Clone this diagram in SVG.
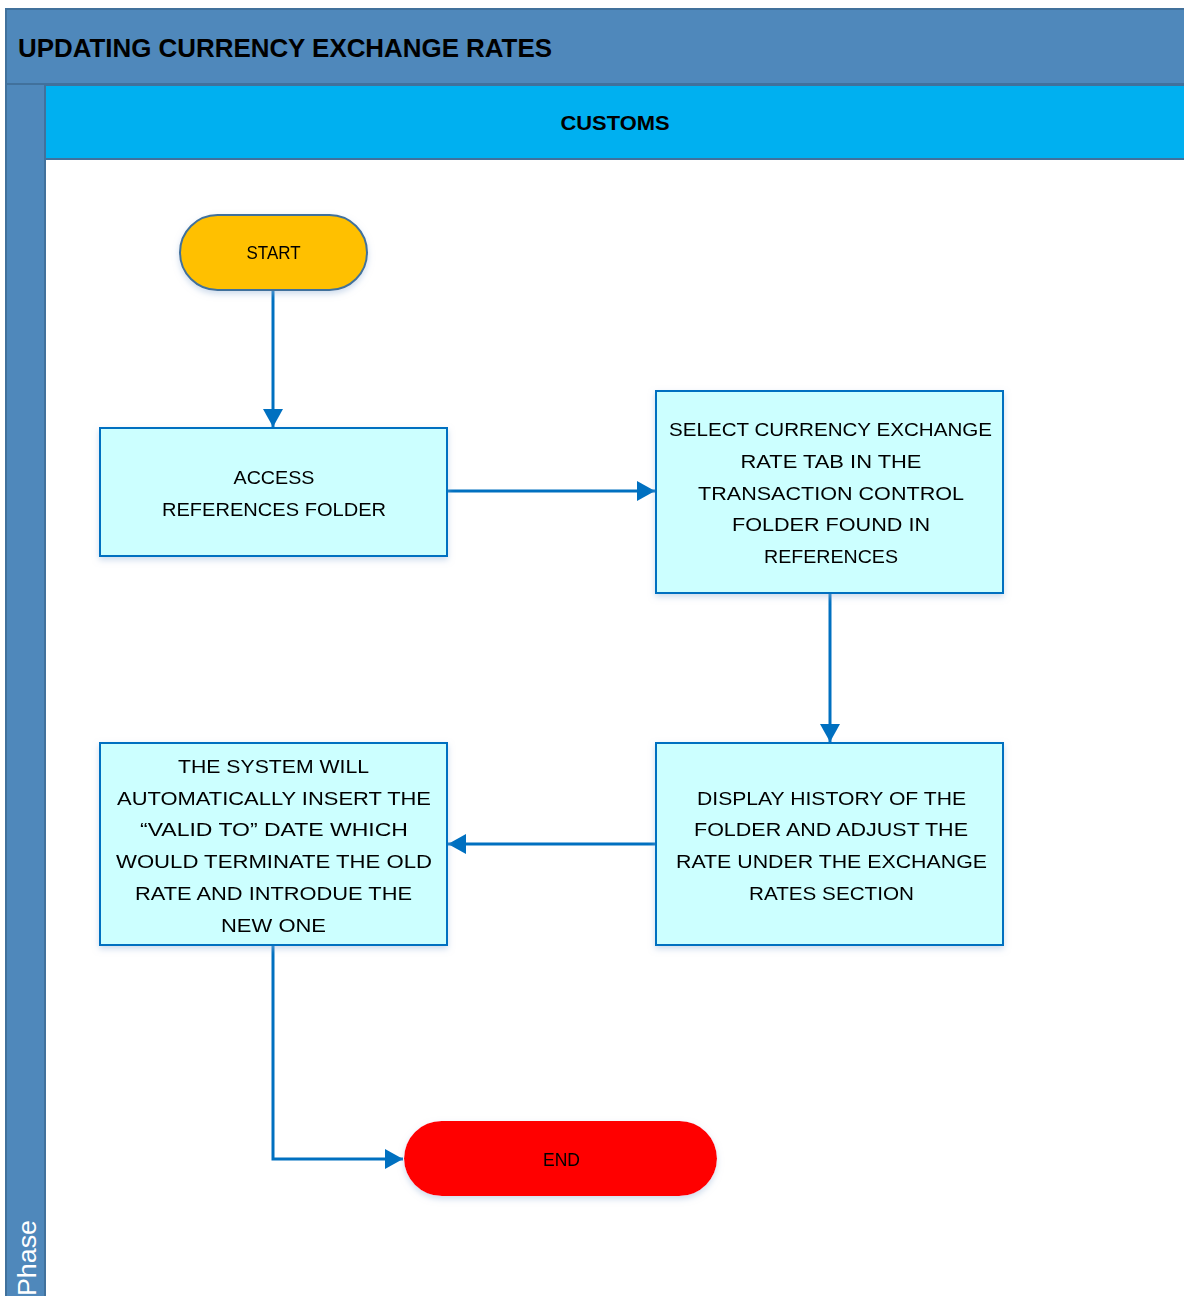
<svg xmlns="http://www.w3.org/2000/svg" width="1184" height="1296" viewBox="0 0 1184 1296">
<defs>
<style>
.t{font-family:"Liberation Sans",Arial,sans-serif;font-size:19px;fill:#000;text-anchor:middle}
.box{fill:#CCFFFF;stroke:#0070C0;stroke-width:2}
.c{fill:none;stroke:#0070C0;stroke-width:3}
</style>
<marker id="ah" markerWidth="18" markerHeight="20" refX="18" refY="10" orient="auto" markerUnits="userSpaceOnUse" viewBox="0 0 18 20">
<path d="M0,0 L18,10 L0,20 z" fill="#0070C0"/>
</marker>
<filter id="sh" x="-10%" y="-10%" width="120%" height="130%">
<feDropShadow dx="0" dy="3" stdDeviation="3" flood-color="#9DB8D9" flood-opacity="0.5"/>
</filter>
</defs>
<rect x="0" y="0" width="1184" height="1296" fill="#FFFFFF"/>
<g id="pool">
<rect x="6" y="9" width="1190" height="75" fill="#4F88BB" stroke="#41719C" stroke-width="2"/>
<text x="18" y="57" font-family="'Liberation Sans',Arial,sans-serif" font-size="26" font-weight="bold" textLength="534" lengthAdjust="spacingAndGlyphs">UPDATING CURRENCY EXCHANGE RATES</text>
<rect x="6" y="84" width="39" height="1220" fill="#4F88BB" stroke="#41719C" stroke-width="2"/>
<text transform="translate(36,1296) rotate(-90)" font-family="'Liberation Sans',Arial,sans-serif" font-size="26" fill="#FFFFFF" textLength="76" lengthAdjust="spacingAndGlyphs">Phase</text>
<rect x="45" y="85" width="1150" height="74" fill="#00B0F0" stroke="#41719C" stroke-width="2"/>
<text x="615" y="130" font-family="'Liberation Sans',Arial,sans-serif" font-size="21" font-weight="bold" text-anchor="middle" textLength="109" lengthAdjust="spacingAndGlyphs">CUSTOMS</text>
</g>
<g id="connectors">
<path class="c" d="M273,290 L273,427" marker-end="url(#ah)"/>
<path class="c" d="M447,491 L655,491" marker-end="url(#ah)"/>
<path class="c" d="M830,593 L830,742" marker-end="url(#ah)"/>
<path class="c" d="M656,844 L448,844" marker-end="url(#ah)"/>
<path class="c" d="M273,945 L273,1159 L403,1159" marker-end="url(#ah)"/>
</g>
<g id="start" filter="url(#sh)">
<rect x="180" y="215" width="187" height="75" rx="37.5" fill="#FFC000" stroke="#41719C" stroke-width="2"/>
<text class="t" x="273.5" y="259" font-size="18" textLength="54" lengthAdjust="spacingAndGlyphs">START</text>
</g>
<g id="access" filter="url(#sh)">
<rect class="box" x="100" y="428" width="347" height="128"/>
<text class="t" x="274" y="484" textLength="81" lengthAdjust="spacingAndGlyphs">ACCESS</text>
<text class="t" x="274" y="516" textLength="224" lengthAdjust="spacingAndGlyphs">REFERENCES FOLDER</text>
</g>
<g id="select" filter="url(#sh)">
<rect class="box" x="656" y="391" width="347" height="202"/>
<text class="t" x="830.5" y="436" textLength="323" lengthAdjust="spacingAndGlyphs">SELECT CURRENCY EXCHANGE</text>
<text class="t" x="831" y="468" textLength="181" lengthAdjust="spacingAndGlyphs">RATE TAB IN THE</text>
<text class="t" x="831" y="500" textLength="266" lengthAdjust="spacingAndGlyphs">TRANSACTION CONTROL</text>
<text class="t" x="831" y="531" textLength="198" lengthAdjust="spacingAndGlyphs">FOLDER FOUND IN</text>
<text class="t" x="831" y="563" textLength="134" lengthAdjust="spacingAndGlyphs">REFERENCES</text>
</g>
<g id="display" filter="url(#sh)">
<rect class="box" x="656" y="743" width="347" height="202"/>
<text class="t" x="831.5" y="805" textLength="269" lengthAdjust="spacingAndGlyphs">DISPLAY HISTORY OF THE</text>
<text class="t" x="831" y="836" textLength="274" lengthAdjust="spacingAndGlyphs">FOLDER AND ADJUST THE</text>
<text class="t" x="831.5" y="868" textLength="311" lengthAdjust="spacingAndGlyphs">RATE UNDER THE EXCHANGE</text>
<text class="t" x="831.5" y="900" textLength="165" lengthAdjust="spacingAndGlyphs">RATES SECTION</text>
</g>
<g id="system" filter="url(#sh)">
<rect class="box" x="100" y="743" width="347" height="202"/>
<text class="t" x="273.5" y="773" textLength="191" lengthAdjust="spacingAndGlyphs">THE SYSTEM WILL</text>
<text class="t" x="274" y="805" textLength="314" lengthAdjust="spacingAndGlyphs">AUTOMATICALLY INSERT THE</text>
<text class="t" x="274" y="836" textLength="268" lengthAdjust="spacingAndGlyphs">“VALID TO” DATE WHICH</text>
<text class="t" x="274" y="868" textLength="316" lengthAdjust="spacingAndGlyphs">WOULD TERMINATE THE OLD</text>
<text class="t" x="273.5" y="900" textLength="277" lengthAdjust="spacingAndGlyphs">RATE AND INTRODUE THE</text>
<text class="t" x="273.5" y="932" textLength="105" lengthAdjust="spacingAndGlyphs">NEW ONE</text>
</g>
<g id="end" filter="url(#sh)">
<rect x="404" y="1121" width="313" height="75" rx="37.5" fill="#FF0000"/>
<text class="t" x="561.5" y="1166" font-size="18" textLength="37" lengthAdjust="spacingAndGlyphs">END</text>
</g>
</svg>
